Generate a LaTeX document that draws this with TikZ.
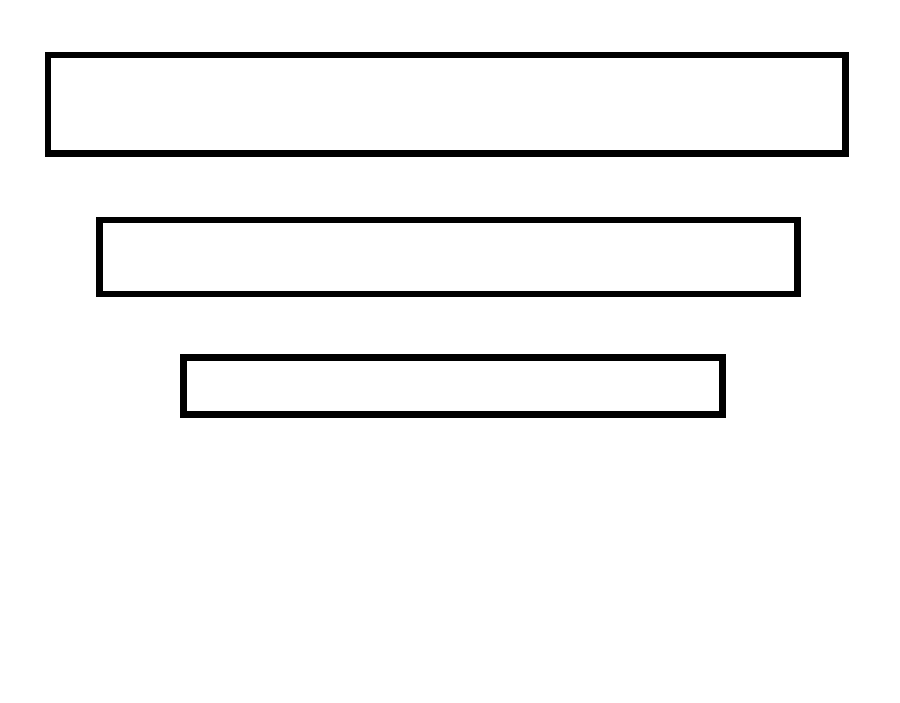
\documentclass[tikz,border=0pt]{standalone}
\begin{document}
\begin{tikzpicture}[x=1pt,y=-1pt,
  bar/.style={draw=black,line width=6.5pt,fill=white,rectangle,inner sep=0pt,line join=miter}]
\useasboundingbox[fill=white] (0,0) rectangle (900,702);
\node[bar,minimum width=797.7pt,minimum height=98.3pt] (top) at (446.85,104.2) {};
\node[bar,minimum width=698.2pt,minimum height=74pt] (mid) at (448.4,257) {};
\node[bar,minimum width=539.4pt,minimum height=56.6pt] (low) at (453,386) {};
\end{tikzpicture}
\end{document}
